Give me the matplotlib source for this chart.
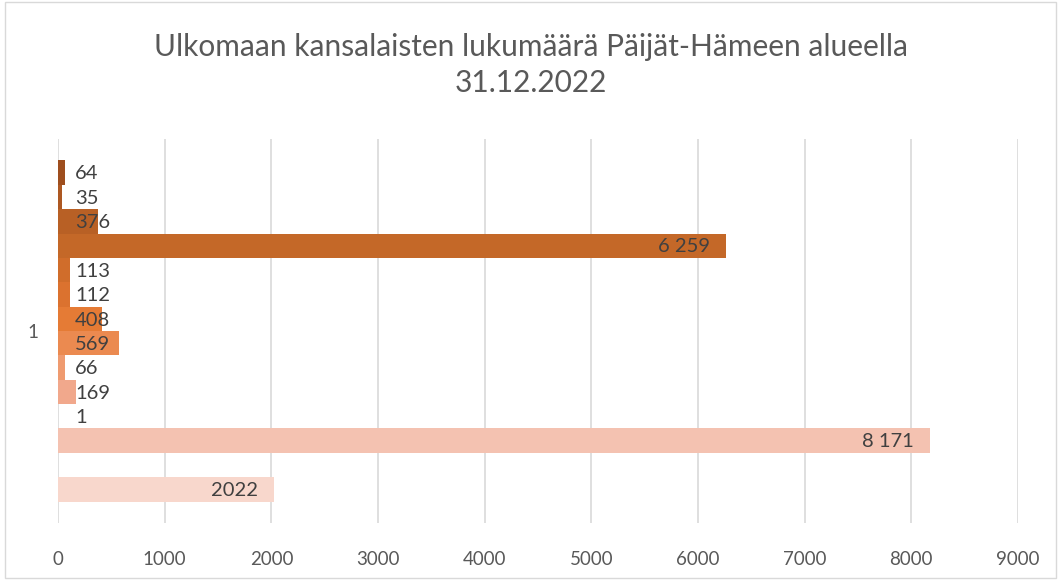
import matplotlib
matplotlib.use("Agg")
from matplotlib import pyplot as plt
from matplotlib.patches import Rectangle

plt.rcParams['font.family'] = ['Lato', 'DejaVu Sans']

title = "Ulkomaan kansalaisten lukumäärä Päijät-Hämeen alueella\n31.12.2022"
category = "1"

# series from top to bottom (None = empty series)
values = [64, 35, 376, 6259, 113, 112, 408, 569, 66, 169, 1, 8171, None, 2022]
labels = ["64", "35", "376", "6 259", "113", "112", "408", "569", "66", "169", "1", "8 171", "", "2022"]
colors = ["#9E4E1E", "#AD5822", "#B86025", "#C46828", "#D06D2B", "#DB722F",
          "#E57B35", "#EB8A50", "#EF9B70", "#F1A88C", "#F3B5A0", "#F4C2B1",
          "#F6CDBF", "#F8D7CC"]

xticks = list(range(0, 10000, 1000))

fig = plt.figure(figsize=(10.61, 5.8), dpi=100)
fig.patches.append(Rectangle((0.005, 0.003), 0.99, 0.994, transform=fig.transFigure,
                             fill=False, edgecolor="#D9D9D9", linewidth=1.0))
ax = fig.add_axes([0.0547, 0.0983, 0.9048, 0.662])

n = len(values)
for i, (v, lab, c) in enumerate(zip(values, labels, colors)):
    if v is None:
        continue
    ax.barh(i, v, height=1.0, color=c, linewidth=0)
    if v > 1500:
        ax.text(v - 150, i + 0.05, lab, ha="right", va="center", fontsize=14.5, color="#404040")
    else:
        ax.text(160, i + 0.05, lab, ha="left", va="center", fontsize=14.5, color="#404040")

ax.set_xlim(0, 9000)
ax.set_ylim(n - 0.5 + 0.88, -0.5 - 0.88)
ax.set_xticks(xticks)
ax.set_xticklabels([str(t) for t in xticks], fontsize=13.5, color="#595959")
ax.set_yticks([(n - 1) / 2])
ax.set_yticklabels([category], fontsize=13.5, color="#595959")
ax.tick_params(axis="both", length=0)
ax.tick_params(axis="x", pad=20)
ax.tick_params(axis="y", pad=14)
ax.grid(axis="x", color="#D9D9D9", linewidth=1.2)
ax.set_axisbelow(True)
for s in ax.spines.values():
    s.set_visible(False)

fig.text(0.5, 0.888, title, ha="center", va="center", fontsize=21.5,
         color="#595959", linespacing=1.35)

fig.savefig("out.png", dpi=100)
